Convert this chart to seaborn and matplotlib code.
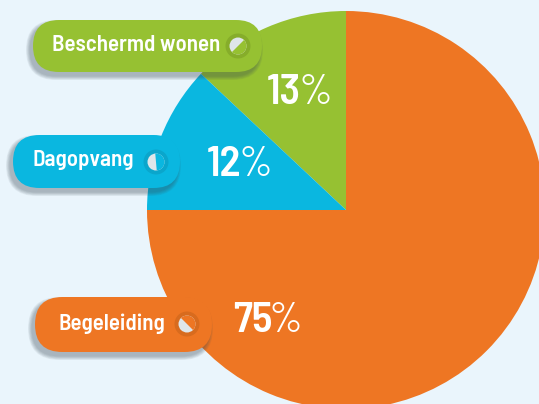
import matplotlib
matplotlib.use("Agg")
import matplotlib.pyplot as plt
import seaborn as sns
from matplotlib.patches import FancyBboxPatch, Circle, Wedge

# data
labels = ['Beschermd wonen', 'Dagopvang', 'Begeleiding']
shares = [13, 12, 75]

sns.set_style('white')
plt.rcParams['font.family'] = ['Barlow Semi Condensed', 'DejaVu Sans']

colors = sns.color_palette(['#96c132', '#0ab7e0', '#ee7623'])
ring_colors = ['#86ad2a', '#0aa6cc', '#d86b1e']
bg = '#eaf5fc'

# layout (pixel coords, y from top)
pill_boxes = [(33, 20, 229, 52), (13, 135, 167, 53), (35, 297, 177, 55)]
text_x = [52, 33, 59]
icon_pos = [(238, 46), (156, 162), (187, 324)]
icon_angle = [45, 95, 135]
pct_split = [(301, 93), (241, 165), (272, 321)]

W, H = 539, 404
fig = plt.figure(figsize=(5.39, 4.04), dpi=100)
fig.patch.set_facecolor(bg)
ax = fig.add_axes([0, 0, 1, 1])
ax.set_facecolor(bg)

ax.pie(shares, colors=colors, startangle=90, counterclock=True,
       center=(346, H - 210), radius=199,
       wedgeprops=dict(linewidth=0))

for i, lab in enumerate(labels):
    x, y, w, h = pill_boxes[i]
    yb = H - y - h
    # soft shadow
    for k in range(6):
        grow = 1 + k * 1.4
        sh = FancyBboxPatch((x - 3 - grow / 2, yb - 4 - grow / 2), w + grow, h + grow,
                            boxstyle=f'round,pad=0,rounding_size={(h + grow) / 2}',
                            fc='#3a4a55', ec='none', alpha=0.07, zorder=3)
        ax.add_patch(sh)
    pill = FancyBboxPatch((x, yb), w, h,
                          boxstyle=f'round,pad=0,rounding_size={h / 2}',
                          fc=colors[i], ec='none', zorder=4)
    ax.add_patch(pill)
    ax.text(text_x[i], yb + h / 2 + 1, lab, color='white', fontsize=16.5,
            fontweight=600, ha='left', va='center', zorder=5)

    cx, cy = icon_pos[i]
    cy = H - cy
    ax.add_patch(Circle((cx, cy), 12.5, fc=ring_colors[i], ec='none', zorder=5))
    ax.add_patch(Circle((cx, cy), 8.5, fc='#dfe6ea', ec='none', zorder=6))
    a = icon_angle[i]
    ax.add_patch(Wedge((cx, cy), 8.5, a - 180, a, fc=colors[i], ec='none', zorder=7))

    # percentage: bold digits, lighter % sign
    px, py = pct_split[i]
    ax.text(px, H - py, str(shares[i]), color='white', fontsize=31, fontweight=600,
            ha='right', va='center', zorder=5)
    ax.text(px - 3, H - py, '%', color='white', fontsize=30, fontweight=400,
            ha='left', va='center', zorder=5)

ax.set_xlim(0, W)
ax.set_ylim(0, H)
ax.set_aspect('auto')
ax.axis('off')

fig.savefig('out.png', dpi=100, facecolor=bg)
